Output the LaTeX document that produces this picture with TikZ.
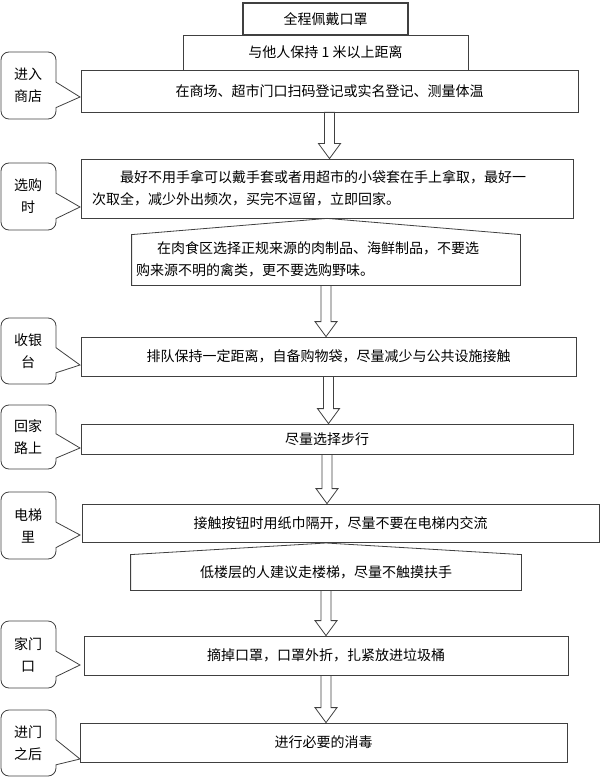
\documentclass[tikz,border=0pt]{standalone}
\usepackage{fontspec}
\setmainfont{Noto Sans CJK SC}
\usetikzlibrary{calc}
\definecolor{lineGray}{HTML}{404040}

\begin{document}
\begin{tikzpicture}[x=1pt, y=-1pt, line width=.8pt, draw=lineGray,
  font=\fontsize{14}{22}\selectfont,
  stepbox/.style={draw, minimum height=#1, inner sep=0pt},
  tagtext/.style={align=center, inner sep=0pt}]
  \useasboundingbox (0,0) rectangle (600,778);

  % side notes
  \newcommand\talkbox[6]{%
    \draw (80,#4) -- (56,{#2+0.83*(#3-#2)}) {[rounded corners=8] -- (56,#3) -- (1,#3) -- (1,#2) -- (56,#2)} -- (56,{#2+0.45*(#3-#2)}) -- cycle;
    \node[tagtext] (#1) at (28,{(#2+#3)/2}) {#5\\#6};
  }
  % hollow arrows
  \newcommand\flowarrow[2]{%
    \draw let \p1=(#1.south), \p2=(#2.north) in
      (\x1-5pt,\y1) -- (\x1-5pt,\y2+15pt) -- (\x1-11pt,\y2+15pt) -- (\x1,\y2)
      -- (\x1+11pt,\y2+15pt) -- (\x1+5pt,\y2+15pt) -- (\x1+5pt,\y1) -- cycle;
  }

  \node[stepbox=32, line width=1.5pt, minimum width=165] (mask) at (325.5,19) {全程佩戴口罩};
  \node[stepbox=35, minimum width=285] (distance) at (325.5,52.5) {与他人保持 1 米以上距离};
  \node[stepbox=42, minimum width=497] (entry) at (329.5,91) {在商场、超市门口扫码登记或实名登记、测量体温};
  \node[stepbox=59, minimum width=492, text width=470, align=left] (shopping) at (327,188.5)
    {\hspace{2em}最好不用手拿可以戴手套或者用超市的小袋套在手上拿取，最好一\\次取全，减少外出频次，买完不逗留，立即回家。};
  \node[minimum width=388, minimum height=52, inner sep=0pt, text width=380, align=left] (meat) at (326,259)
    {\hspace{1.5em}在肉食区选择正规来源的肉制品、海鲜制品，不要选\\购来源不明的禽类，更不要选购野味。};
  \draw (meat.south west) -- ($(meat.north west)+(0,2)$) -- (shopping.south) -- ($(meat.north east)+(0,2)$) -- (meat.south east) -- cycle;
  \node[stepbox=39, minimum width=495] (checkout) at (328.5,356.5) {排队保持一定距离，自备购物袋，尽量减少与公共设施接触};
  \node[stepbox=30, minimum width=492] (walk) at (327,439) {尽量选择步行};
  \node[stepbox=38, minimum width=517] (lift) at (340.5,523) {接触按钮时用纸巾隔开，尽量不要在电梯内交流};
  \node[minimum width=390, minimum height=35, inner sep=0pt] (stairs) at (326,572.5) {低楼层的人建议走楼梯，尽量不触摸扶手};
  \draw (stairs.south west) -- (stairs.north west) -- (326,543) -- (stairs.north east) -- (stairs.south east) -- cycle;
  \node[stepbox=39, minimum width=484] (door) at (326,655.5) {摘掉口罩，口罩外折，扎紧放进垃圾桶};
  \node[stepbox=39, minimum width=487] (clean) at (323.5,742.5) {进行必要的消毒};

  \flowarrow{entry}{shopping}
  \flowarrow{meat}{checkout}
  \flowarrow{checkout}{walk}
  \flowarrow{walk}{lift}
  \flowarrow{stairs}{door}
  \flowarrow{door}{clean}

  \talkbox{tagEntry}{52}{119}{97}{进入}{商店}
  \talkbox{tagShop}{163}{230}{207}{选购}{时}
  \talkbox{tagPay}{318}{384}{365}{收银}{台}
  \talkbox{tagHome}{405}{469}{448}{回家}{路上}
  \talkbox{tagLift}{492}{559}{535}{电梯}{里}
  \talkbox{tagDoor}{621}{688}{665}{家门}{口}
  \talkbox{tagAfter}{710}{776}{759}{进门}{之后}
\end{tikzpicture}
\end{document}
